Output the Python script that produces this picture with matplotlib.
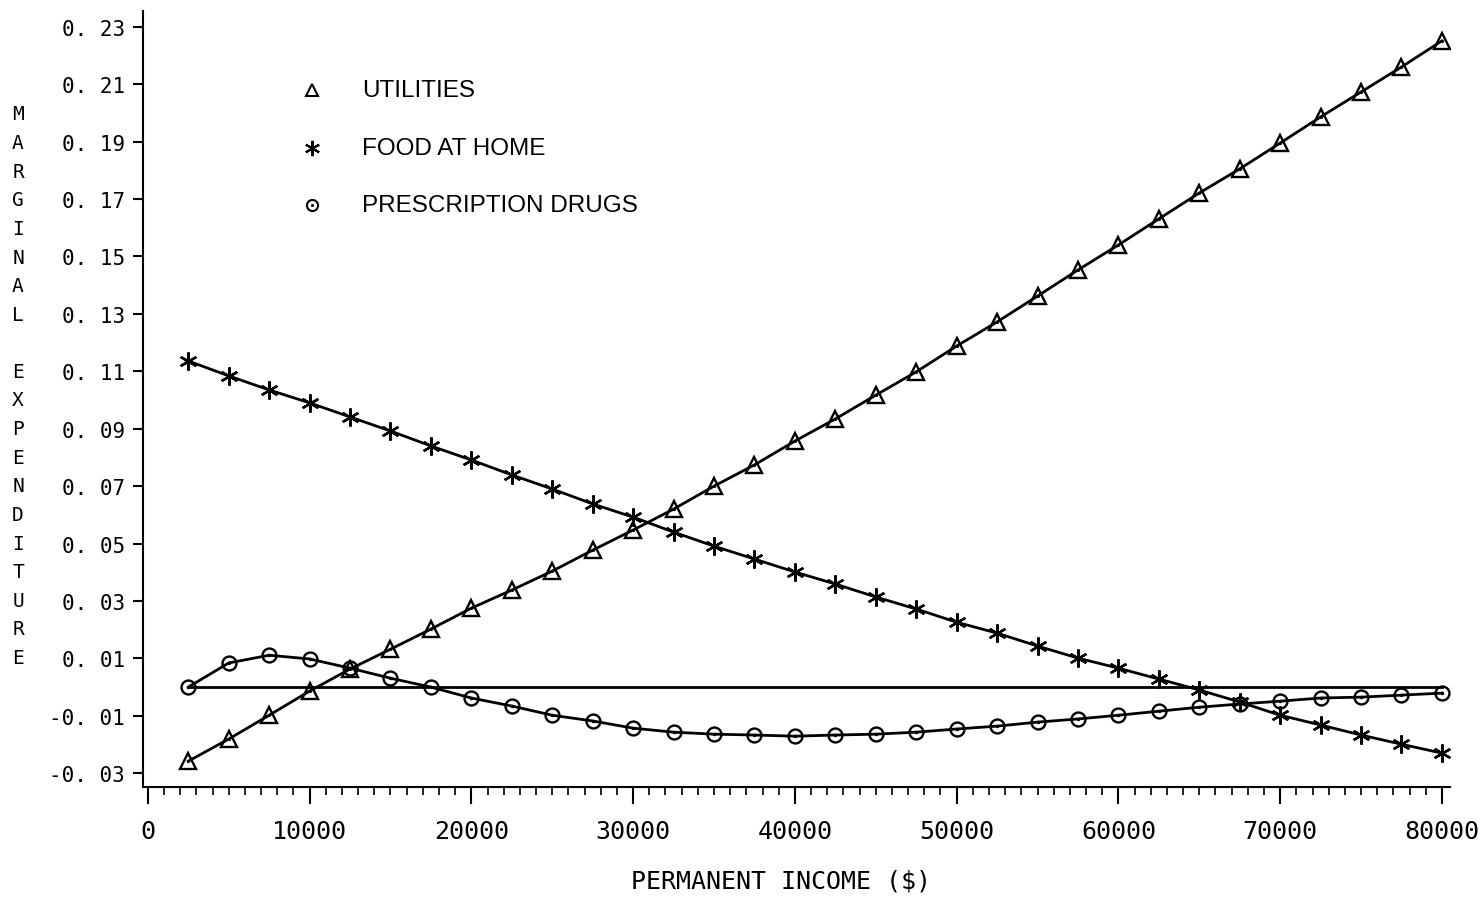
import numpy as np
import matplotlib
matplotlib.use("Agg")
import matplotlib.pyplot as plt
from matplotlib.ticker import MultipleLocator

# permanent income grid ($)
income = [2500, 5000, 7500, 10000, 12500, 15000, 17500, 20000,
          22500, 25000, 27500, 30000, 32500, 35000, 37500, 40000,
          42500, 45000, 47500, 50000, 52500, 55000, 57500, 60000,
          62500, 65000, 67500, 70000, 72500, 75000, 77500, 80000]

utilities = [-0.0258, -0.0181, -0.0098, -0.0014, 0.0063, 0.0132, 0.0202, 0.0275,
             0.0338, 0.0404, 0.0477, 0.0547, 0.0620, 0.0700, 0.0774, 0.0857,
             0.0934, 0.1017, 0.1098, 0.1188, 0.1272, 0.1362, 0.1453, 0.1540,
             0.1631, 0.1721, 0.1805, 0.1895, 0.1986, 0.2073, 0.2160, 0.2251]

food_at_home = [0.1136, 0.1084, 0.1035, 0.0990, 0.0941, 0.0892, 0.0840, 0.0791,
                0.0739, 0.0690, 0.0638, 0.0592, 0.0540, 0.0491, 0.0446, 0.0401,
                0.0359, 0.0314, 0.0272, 0.0226, 0.0188, 0.0143, 0.0101, 0.0066,
                0.0028, -0.0010, -0.0052, -0.0098, -0.0132, -0.0167, -0.0199, -0.0230]

drugs = [0.0000, 0.0084, 0.0111, 0.0098, 0.0066, 0.0031, 0.0000, -0.0038,
         -0.0066, -0.0098, -0.0118, -0.0143, -0.0157, -0.0164, -0.0167, -0.0171,
         -0.0167, -0.0164, -0.0157, -0.0146, -0.0136, -0.0122, -0.0111, -0.0098,
         -0.0084, -0.0070, -0.0059, -0.0049, -0.0038, -0.0035, -0.0028, -0.0021]

series_names = ["UTILITIES", "FOOD AT HOME", "PRESCRIPTION DRUGS"]
y_ticks = [-0.03, -0.01, 0.01, 0.03, 0.05, 0.07, 0.09, 0.11,
           0.13, 0.15, 0.17, 0.19, 0.21, 0.23]
x_ticks = [0, 10000, 20000, 30000, 40000, 50000, 60000, 70000, 80000]

mono = "DejaVu Sans Mono"
star = (6, 2, 0)

fig = plt.figure(figsize=(14.84, 9.04), dpi=100, facecolor="w")
ax = fig.add_axes([143/1484, 1 - 788/904, (1450 - 143)/1484, (788 - 12)/904])

line_kw = dict(color="k", lw=2.0, mew=1.7, mec="k")

# zero reference line
ax.plot([income[0], income[-1]], [0, 0], color="k", lw=2.0, zorder=2)

ax.plot(income, utilities, marker="^", ms=12, mfc="none", **line_kw, zorder=3)
ax.plot(income, utilities, ls="none", marker=".", ms=2.5, color="k", zorder=4)
ax.plot(income, food_at_home, marker=star, ms=13, **line_kw, zorder=3)
ax.plot(income, drugs, marker="o", ms=10, mfc="none", **line_kw, zorder=3)
ax.plot(income, drugs, ls="none", marker=".", ms=3, color="k", zorder=4)

ax.set_xlim(-300, 80500)
ax.set_ylim(-0.0348, 0.2355)

ax.spines["right"].set_visible(False)
ax.spines["top"].set_visible(False)
ax.spines["left"].set_linewidth(1.5)
ax.spines["bottom"].set_linewidth(1.5)

ax.set_yticks(y_ticks)
ax.set_yticklabels([("%.2f" % v).replace(".", ". ") for v in y_ticks],
                   family=mono, fontsize=15)
ax.set_xticks(x_ticks)
ax.set_xticklabels([str(v) for v in x_ticks], family=mono, fontsize=18)
ax.xaxis.set_minor_locator(MultipleLocator(1000))

ax.tick_params(axis="y", direction="out", length=7, width=1.5, pad=6)
ax.tick_params(axis="x", which="major", direction="out", length=12, width=1.5, pad=11)
ax.tick_params(axis="x", which="minor", direction="out", length=6, width=1.2)

# legend drawn by hand
leg_markers = [dict(marker="^", ms=9, mfc="none"),
               dict(marker=star, ms=11),
               dict(marker="o", ms=8, mfc="none")]
leg_y = [0.898, 0.824, 0.750]
for name, mk, y in zip(series_names, leg_markers, leg_y):
    ax.plot([0.1293], [y], transform=ax.transAxes, color="k", mec="k",
            mew=1.5, ls="none", clip_on=False, **mk)
    ax.text(0.1676, y, name, transform=ax.transAxes, ha="left", va="center",
            family="Liberation Sans", fontsize=17.5)
ax.plot([0.1293], [0.750], transform=ax.transAxes, ls="none", marker=".",
        ms=2.5, color="k")

# stacked vertical axis title
for i, ch in enumerate("MARGINAL EXPENDITURE"):
    fig.text(18/1484, 1 - (115 + i*28.6)/904, ch, family=mono, fontsize=14,
             ha="center", va="center")

fig.text(781/1484, 1 - 882/904, "PERMANENT INCOME ($)", family=mono,
         fontsize=18, ha="center", va="center")

fig.savefig("out.png", dpi=100)
